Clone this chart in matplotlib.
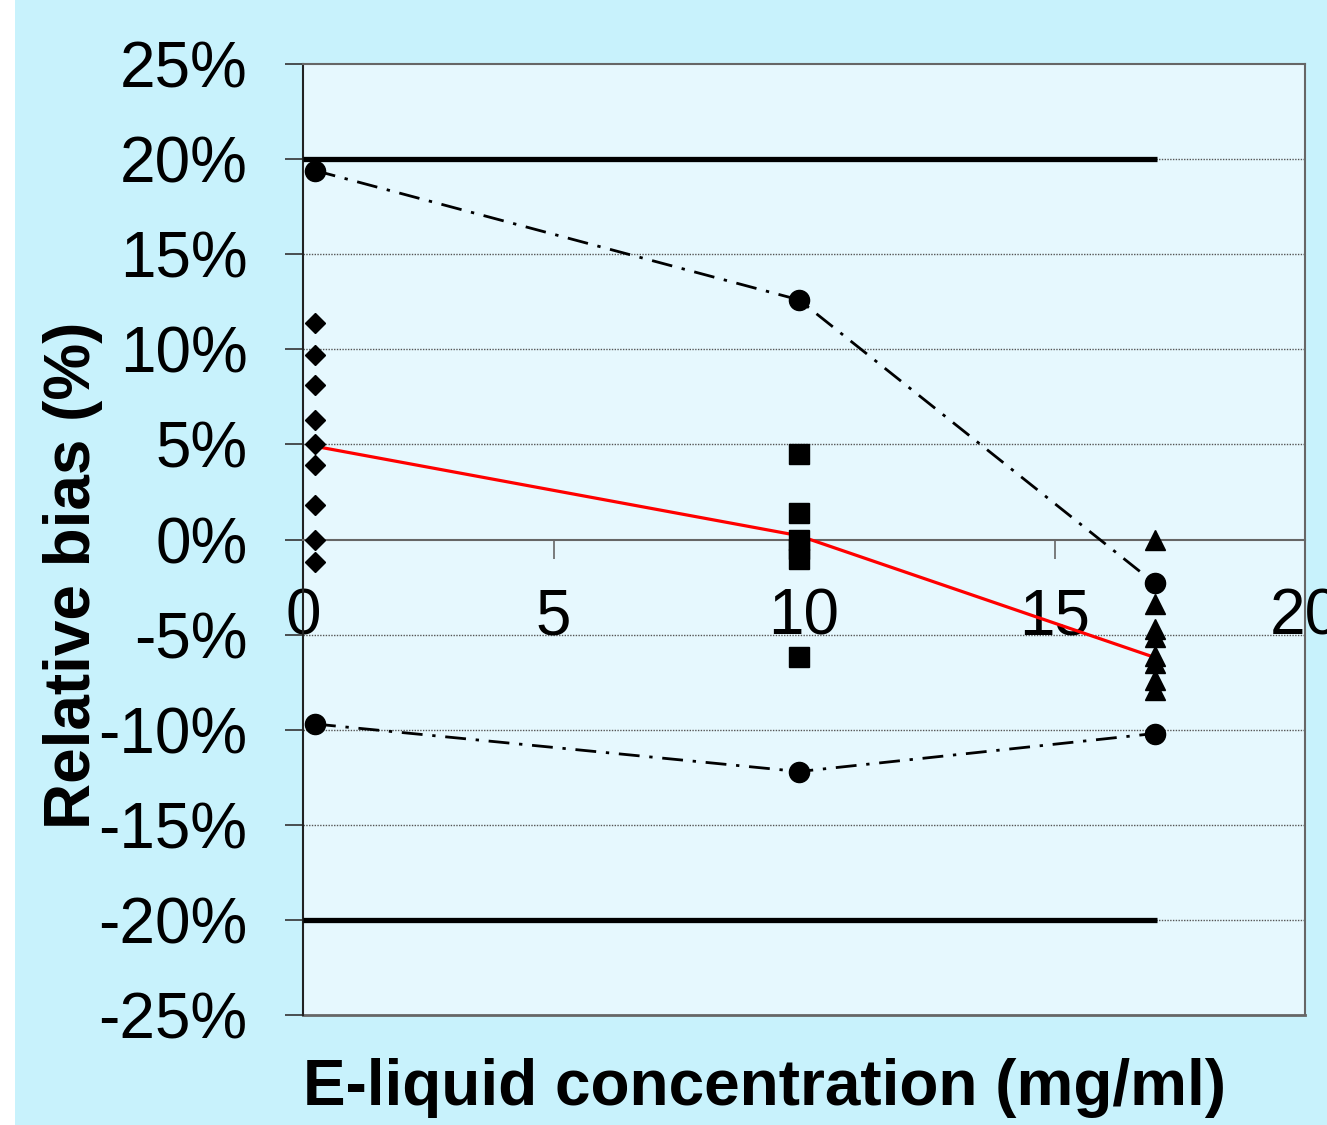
import matplotlib
matplotlib.use("Agg")
import matplotlib.pyplot as plt
from matplotlib.patches import Rectangle
from matplotlib.ticker import FuncFormatter

# concentrations (mg/ml) of the three e-liquids
conc = [0.24, 9.9, 17.0]

# individual relative bias results (%)
low_bias = [11.4, 9.7, 8.1, 6.3, 5.0, 3.9, 1.8, 0.0, -1.2]
mid_bias = [4.5, 1.4, 0.0, -0.5, -1.0, -6.2]
high_bias = [0.0, -3.4, -4.7, -5.1, -6.1, -6.5, -7.4, -7.9]

# mean bias and upper / lower tolerance limits (%)
mean_bias = [4.9, 0.2, -6.2]
upper_tol = [19.4, 12.6, -2.3]
lower_tol = [-9.7, -12.2, -10.2]

# acceptance limits
accept_x = [0, 17.05]
accept_hi = 20
accept_lo = -20

x_ticks = [0, 5, 10, 15, 20]
y_ticks = [-25, -20, -15, -10, -5, 0, 5, 10, 15, 20, 25]

OUTER = "#C8F2FC"
INNER = "#E6F8FE"
FRAME = "#666666"

plt.rcParams["font.family"] = ["Liberation Sans", "DejaVu Sans"]

fig = plt.figure(figsize=(13.27, 11.25), dpi=100)
fig.patch.set_facecolor("white")
fig.patches.append(Rectangle((15 / 1327, 0), 1, 1, transform=fig.transFigure,
                             facecolor=OUTER, edgecolor="none", zorder=-10))

ax = fig.add_axes([303 / 1327, 1 - 1015 / 1125, 1002 / 1327, 951 / 1125])
ax.set_facecolor(INNER)
ax.set_xlim(0, 20)
ax.set_ylim(-25, 25)

# dotted grid
for yv in y_ticks:
    if yv not in (0, 25, -25):
        ax.axhline(yv, color="#555555", lw=1.0, ls=(0, (1, 1)), zorder=1)

# frame
for side in ("top", "right"):
    ax.spines[side].set_color(FRAME)
    ax.spines[side].set_linewidth(1.5)
ax.spines["left"].set_color("#222222")
ax.spines["left"].set_linewidth(1.5)
ax.spines["bottom"].set_position(("data", 0))
ax.spines["bottom"].set_color(FRAME)
ax.spines["bottom"].set_linewidth(1.5)
ax.axhline(-25, color=FRAME, lw=2.0, clip_on=False, zorder=2)

# acceptance limits
ax.plot(accept_x, [accept_hi, accept_hi], color="black", lw=3.8, zorder=3,
        solid_capstyle="butt")
ax.plot(accept_x, [accept_lo, accept_lo], color="black", lw=3.8, zorder=3,
        solid_capstyle="butt")

# tolerance interval lines
dashdot = (0, (7.5, 3.5, 1.2, 3.5))
ax.plot(conc, upper_tol, color="black", lw=2.0, ls=dashdot, marker="o",
        ms=14.5, zorder=4)
ax.plot(conc, lower_tol, color="black", lw=2.0, ls=dashdot, marker="o",
        ms=14.5, zorder=4)

# mean bias
ax.plot(conc, mean_bias, color="#FF0000", lw=2.3, zorder=4)

# individual results
ax.plot([conc[0]] * len(low_bias), low_bias, ls="none", marker="D",
        ms=10.3, color="black", zorder=5)
ax.plot([conc[1]] * len(mid_bias), mid_bias, ls="none", marker="s",
        ms=14.5, color="black", zorder=5)
ax.plot([conc[2]] * len(high_bias), high_bias, ls="none", marker="^",
        ms=15, color="black", zorder=5)

ax.set_xticks(x_ticks)
ax.set_yticks(y_ticks)
ax.yaxis.set_major_formatter(FuncFormatter(lambda v, p: f"{v:.0f}%"))
ax.tick_params(axis="y", direction="out", length=13, width=1.2,
               color="#333333", pad=27, labelsize=46)
ax.tick_params(axis="x", direction="out", length=13.5, width=1.2,
               color=FRAME, pad=21, labelsize=46)
for lab in ax.get_xticklabels():
    lab.set_clip_on(False)

fig.text(765 / 1327, 1 - 1088 / 1125, "E-liquid concentration (mg/ml)",
         ha="center", va="center", fontsize=46, fontweight="bold")
fig.text(73 / 1327, 1 - 575 / 1125, "Relative bias (%)", rotation=90,
         ha="center", va="center", fontsize=46, fontweight="bold")

fig.savefig("out.png", dpi=100, facecolor=fig.get_facecolor())
